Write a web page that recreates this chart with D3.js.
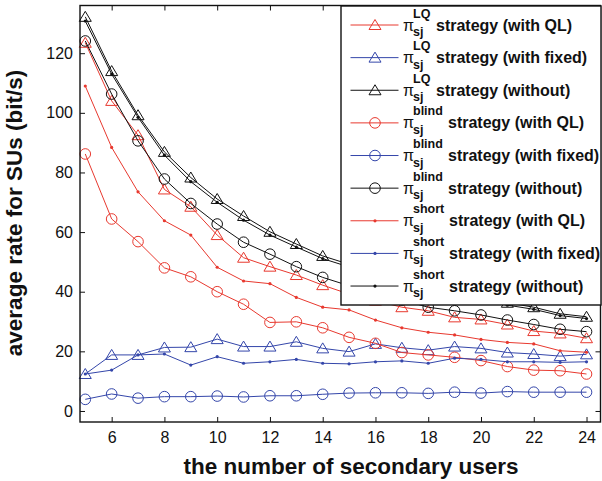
<!DOCTYPE html>
<html><head><meta charset="utf-8">
<script src="https://cdn.jsdelivr.net/npm/d3@7"></script>
<style>body{margin:0;background:#fff}svg{display:block}text{font-family:"Liberation Sans",Arial,Helvetica,sans-serif}</style>
</head><body><svg id="c" width="602" height="481"></svg>
<script>
const users = [5,6,7,8,9,10,11,12,13,14,15,16,17,18,19,20,21,22,23,24];
const lqQL        = [123.5,104,92.5,74.3,68.5,59,51.4,48.4,45.6,42.2,39.2,37,34.8,33.6,31.4,30.7,29,26.8,26,24.4];
const lqFixed     = [12.4,18.8,18.8,21.3,21.4,24.1,21.6,21.6,23.2,21,19.9,22.5,21.2,20.4,21.6,21,19.6,19.1,18.4,19];
const lqWithout   = [132.2,114,99.2,86.9,78.3,71.1,65.4,60.1,56,52,49.2,46.5,44,41.6,39.6,37.9,36.3,34.8,32.6,31.6];
const blindQL     = [86.2,64.4,56.8,48,45,40,35.8,29.7,29.9,27.9,24.7,22.7,19.6,18.8,18,16.9,14.9,13.7,13.5,12.4];
const blindFixed  = [3.9,5.7,4.3,4.8,4.8,5,4.7,5.1,5.1,5.6,6,6.1,6.1,5.9,6.3,6,6.5,6.3,6.3,6.3];
const blindWithout= [124.1,106.3,90.6,77.8,69.6,62.7,56.6,52.6,48.4,44.8,42,39.6,37.2,34.8,33.6,32.2,30.5,29,27.4,26.6];
const shortQL     = [109,88.4,73.5,63.8,59,48.2,43.6,42.7,38.1,34.8,33.9,30.5,27.9,26.4,25.5,24,23,22.5,20.2,19.7];
const shortFixed  = [12.4,13.7,18.8,19.1,15.4,18.2,16,16.5,17.3,16,15.8,16.5,16.8,16,17.7,17.3,16.5,16.5,16.3,16.5];
const shortWithout= [130.8,113,98.5,85.8,76.9,70,64,59,55,51.1,48.3,45.7,43.2,40.8,38.8,37.1,35.5,34.1,32,31];
const xTicks = [6,8,10,12,14,16,18,20,22,24];
const yTicks = [0,20,40,60,80,100,120];
const seriesNames = ["LQ","LQ","LQ","blind","blind","blind","short","short","short"];
const seriesLabels = ["strategy (with QL)","strategy (with fixed)","strategy (without)",
  "strategy (with QL)","strategy (with fixed)","strategy (without)",
  "strategy (with QL)","strategy (with fixed)","strategy (without)"];

const RED="#e8392f", BLUE="#3446aa", BLACK="#111";
const series = [
  {v:lqQL,c:RED,m:"tri"},{v:lqFixed,c:BLUE,m:"tri"},{v:lqWithout,c:BLACK,m:"tri"},
  {v:blindQL,c:RED,m:"circ"},{v:blindFixed,c:BLUE,m:"circ"},{v:blindWithout,c:BLACK,m:"circ"},
  {v:shortQL,c:RED,m:"dot"},{v:shortFixed,c:BLUE,m:"dot"},{v:shortWithout,c:BLACK,m:"dot"}
];

const svg = d3.select("#c");
const L=80, R=600.5, T=5.5, B=422;
const x = d3.scaleLinear().domain([4.8,24.53]).range([L,R]);
const y = d3.scaleLinear().domain([-3.7,136]).range([B,T]);

function marker(g, kind, cx, cy, col){
  if(kind==="tri"){
    g.append("path").attr("d",`M${cx},${cy-5.5}L${cx+6},${cy+4.5}L${cx-6},${cy+4.5}Z`)
     .attr("fill","none").attr("stroke",col).attr("stroke-width",1);
  } else if(kind==="circ"){
    g.append("circle").attr("cx",cx).attr("cy",cy).attr("r",5.3)
     .attr("fill","none").attr("stroke",col).attr("stroke-width",1);
  } else {
    g.append("circle").attr("cx",cx).attr("cy",cy).attr("r",1.6).attr("fill",col);
  }
}

const plot = svg.append("g");
const line = d3.line().x((d,i)=>x(users[i])).y(d=>y(d));
series.forEach(s=>{
  const g = plot.append("g");
  g.append("path").attr("d",line(s.v)).attr("fill","none").attr("stroke",s.c).attr("stroke-width",1);
  s.v.forEach((v,i)=>marker(g,s.m,x(users[i]),y(v),s.c));
});

// axes
const ax = svg.append("g");
ax.append("g").attr("transform",`translate(0,${B})`)
  .call(d3.axisBottom(x).tickValues(xTicks).tickSizeInner(-5).tickSizeOuter(0).tickPadding(10))
  .call(g=>{g.select(".domain").remove();g.selectAll("text").attr("font-size",16).attr("fill","#111");g.selectAll("line").attr("stroke","#111");});
ax.append("g").attr("transform",`translate(0,${T})`)
  .call(d3.axisTop(x).tickValues(xTicks).tickSizeInner(-5).tickSizeOuter(0).tickFormat(""))
  .call(g=>{g.select(".domain").remove();g.selectAll("line").attr("stroke","#111");});
ax.append("g").attr("transform",`translate(${L},0)`)
  .call(d3.axisLeft(y).tickValues(yTicks).tickSizeInner(-5).tickSizeOuter(0).tickPadding(7))
  .call(g=>{g.select(".domain").remove();g.selectAll("text").attr("font-size",16).attr("fill","#111");g.selectAll("line").attr("stroke","#111");});
ax.append("g").attr("transform",`translate(${R},0)`)
  .call(d3.axisRight(y).tickValues(yTicks).tickSizeInner(-5).tickSizeOuter(0).tickFormat(""))
  .call(g=>{g.select(".domain").remove();g.selectAll("line").attr("stroke","#111");});
ax.append("rect").attr("x",L).attr("y",T).attr("width",R-L).attr("height",B-T)
  .attr("fill","none").attr("stroke","#111").attr("stroke-width",1.4);

svg.append("text").attr("x",351).attr("y",474).attr("text-anchor","middle")
  .attr("font-size",22.5).attr("font-weight","bold").attr("fill","#111").text("the number of secondary users");
svg.append("text").attr("transform","translate(22,213) rotate(-90)").attr("text-anchor","middle")
  .attr("font-size",22.5).attr("font-weight","bold").attr("fill","#111").text("average rate for SUs (bit/s)");

// legend
const lg = svg.append("g");
lg.append("rect").attr("x",341).attr("y",6).attr("width",260).attr("height",299)
  .attr("fill","#fff").attr("stroke","#111").attr("stroke-width",1.4);
const textX = {LQ:436, blind:448, short:449};
series.forEach((s,i)=>{
  const cy = 25 + i*32.63;
  lg.append("line").attr("x1",350.5).attr("x2",398.5).attr("y1",cy).attr("y2",cy).attr("stroke",s.c).attr("stroke-width",1);
  marker(lg,s.m,375,cy,s.c);
  lg.append("text").attr("x",403).attr("y",cy+5.5).attr("font-size",16).attr("fill","#111").text("\u03c0");
  lg.append("text").attr("x",413).attr("y",cy-7.5).attr("font-size",12.5).attr("font-weight","bold").attr("fill","#111").text(seriesNames[i]);
  lg.append("text").attr("x",413).attr("y",cy+11).attr("font-size",12.5).attr("font-weight","bold").attr("fill","#111").text("sj");
  lg.append("text").attr("x",textX[seriesNames[i]]).attr("y",cy+5.5).attr("font-size",16).attr("font-weight","bold").attr("fill","#111").text(seriesLabels[i]);
});
</script></body></html>
